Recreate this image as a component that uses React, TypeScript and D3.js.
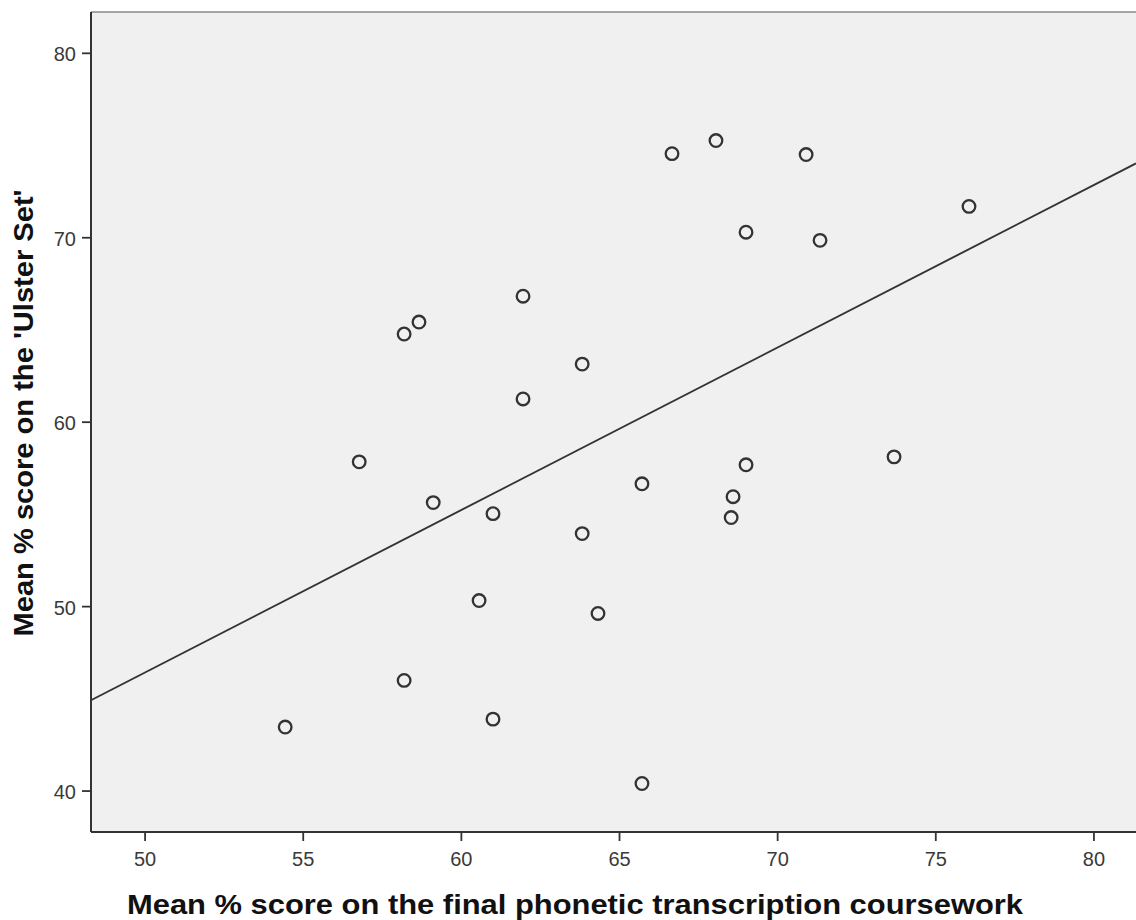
import React from "react";
import * as d3 from "d3";

const xValues = [66.66, 68.05, 70.9, 76.05, 69.0, 71.34, 61.95, 58.66, 58.19, 63.82, 61.95, 56.77, 73.68, 69.0, 65.71, 59.11, 68.59, 61.0, 68.53, 63.82, 60.56, 64.32, 58.19, 61.0, 54.43, 65.71];
const yValues = [74.56, 75.27, 74.51, 71.7, 70.3, 69.86, 66.83, 65.43, 64.78, 63.15, 61.26, 57.85, 58.12, 57.69, 56.66, 55.64, 55.96, 55.04, 54.83, 53.96, 50.33, 49.63, 46.0, 43.9, 43.47, 40.41];
const xTicks = [50, 55, 60, 65, 70, 75, 80];
const yTicks = [40, 50, 60, 70, 80];
const xDomain = [48.29, 81.33];
const yDomain = [37.78, 82.24];
const fitIntercept = 2.38;
const fitSlope = 0.881;
const xTitle = "Mean % score on the final phonetic transcription coursework";
const yTitle = "Mean % score on the 'Ulster Set'";

export default function App() {
  const W = 1136, H = 920;
  const left = 91, right = 1136, top = 12, bottom = 832;
  const x = d3.scaleLinear().domain(xDomain).range([left, right]);
  const y = d3.scaleLinear().domain(yDomain).range([bottom, top]);
  const line = d3.line<number>().x((v) => x(v)).y((v) => y(fitIntercept + fitSlope * v));
  const points = xValues.map((v, i) => [v, yValues[i]]);
  const axisColor = "#333";
  const tickFont = "'Liberation Sans Narrow', 'Liberation Sans', Arial, sans-serif";
  const titleFont = "'Liberation Sans', Arial, sans-serif";
  return (
    <svg width={W} height={H} style={{ position: "absolute", left: 0, top: 0, background: "#fff" }}>
      <rect x={left} y={top} width={right - left} height={bottom - top} fill="#f0f0f0" />
      <line x1={left} x2={right} y1={top} y2={top} stroke="#888" strokeWidth={1.5} />
      <defs>
        <clipPath id="plotclip">
          <rect x={left} y={top} width={right - left} height={bottom - top} />
        </clipPath>
      </defs>
      <path d={line(xDomain) || ""} stroke="#333" strokeWidth={1.9} fill="none" clipPath="url(#plotclip)" />
      {points.map(([a, b], i) => (
        <circle key={i} cx={x(a)} cy={y(b)} r={6.3} fill="none" stroke="#333" strokeWidth={2.3} />
      ))}
      <line x1={left} x2={left} y1={top} y2={bottom} stroke={axisColor} strokeWidth={2} />
      <line x1={left} x2={right} y1={bottom} y2={bottom} stroke={axisColor} strokeWidth={2} />
      {xTicks.map((t) => (
        <g key={"x" + t}>
          <line x1={x(t)} x2={x(t)} y1={bottom} y2={bottom + 9} stroke={axisColor} strokeWidth={1.8} />
          <text x={x(t)} y={866} textAnchor="middle" fontFamily={tickFont} fontSize={20} fill="#3a3a3a">{t}</text>
        </g>
      ))}
      {yTicks.map((t) => (
        <g key={"y" + t}>
          <line x1={left - 9} x2={left} y1={y(t)} y2={y(t)} stroke={axisColor} strokeWidth={1.8} />
          <text x={76} y={y(t) + 8} textAnchor="end" fontFamily={tickFont} fontSize={20} fill="#3a3a3a">{t}</text>
        </g>
      ))}
      <text x={575} y={914} textAnchor="middle" fontFamily={titleFont} fontWeight="bold" fontSize={28} fill="#111" textLength={896} lengthAdjust="spacingAndGlyphs">{xTitle}</text>
      <text transform={`translate(33, 413) rotate(-90)`} textAnchor="middle" fontFamily={titleFont} fontWeight="bold" fontSize={28} fill="#111" textLength={447} lengthAdjust="spacingAndGlyphs">{yTitle}</text>
    </svg>
  );
}
